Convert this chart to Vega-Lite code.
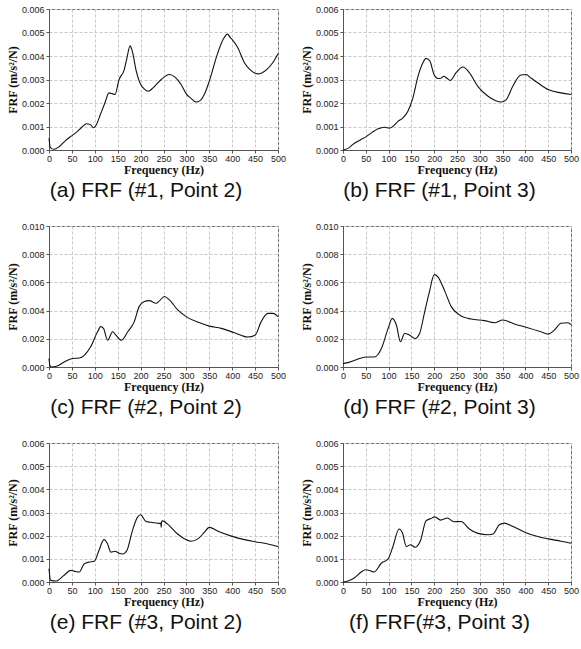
{
  "$schema": "https://vega.github.io/schema/vega-lite/v6.json",
  "padding": {"left": 5, "top": 4, "right": 4, "bottom": 0},
  "background": "white",
  "config": {
    "view": {"stroke": "#555", "strokeWidth": 1},
    "axis": {"labelFont": "Liberation Sans", "labelFontSize": 9, "labelColor": "#222", "labelFlush": false, "labelOverlap": false, "titleFont": "Liberation Serif", "titleFontSize": 12, "titleFontWeight": "bold", "titleColor": "#111", "grid": true, "gridColor": "#c8c8c8", "gridDash": [3, 2], "domainColor": "#555", "tickColor": "#555", "tickSize": 3, "labelPadding": 2, "titlePadding": 2},
    "axisX": {"titlePadding": 1, "labelPadding": 1},
    "title": {"font": "Liberation Sans", "fontSize": 21, "fontWeight": "normal", "color": "#111", "orient": "bottom", "anchor": "middle", "frame": "bounds", "offset": 5},
    "line": {"color": "#111", "strokeWidth": 1.1, "interpolate": "monotone"}
  },
  "datasets": {
    "a": [
      {"f": 0, "v": 0.0005}, {"f": 3, "v": 0.0001}, {"f": 11, "v": 0.00003}, {"f": 22, "v": 0.00014}, {"f": 35, "v": 0.00038}, {"f": 47, "v": 0.00057}, {"f": 62, "v": 0.00079}, {"f": 72, "v": 0.00098}, {"f": 82, "v": 0.00112}, {"f": 91, "v": 0.00107}, {"f": 97, "v": 0.00095}, {"f": 100, "v": 0.00098}, {"f": 104, "v": 0.0011}, {"f": 112, "v": 0.0015}, {"f": 122, "v": 0.002}, {"f": 131, "v": 0.00243}, {"f": 138, "v": 0.0024}, {"f": 144, "v": 0.00236}, {"f": 153, "v": 0.003}, {"f": 164, "v": 0.0034}, {"f": 170, "v": 0.0039}, {"f": 177, "v": 0.00443}, {"f": 182, "v": 0.0042}, {"f": 190, "v": 0.0034}, {"f": 200, "v": 0.0028}, {"f": 208, "v": 0.0026}, {"f": 217, "v": 0.0025}, {"f": 230, "v": 0.0027}, {"f": 245, "v": 0.003}, {"f": 263, "v": 0.00321}, {"f": 275, "v": 0.0031}, {"f": 288, "v": 0.0028}, {"f": 300, "v": 0.00238}, {"f": 310, "v": 0.0022}, {"f": 321, "v": 0.00204}, {"f": 330, "v": 0.0021}, {"f": 340, "v": 0.0024}, {"f": 350, "v": 0.00293}, {"f": 368, "v": 0.0041}, {"f": 380, "v": 0.0047}, {"f": 390, "v": 0.00493}, {"f": 395, "v": 0.0048}, {"f": 400, "v": 0.0047}, {"f": 412, "v": 0.00436}, {"f": 427, "v": 0.0037}, {"f": 440, "v": 0.0034}, {"f": 456, "v": 0.00324}, {"f": 474, "v": 0.0034}, {"f": 488, "v": 0.0037}, {"f": 500, "v": 0.0041}
    ],
    "b": [
      {"f": 0, "v": 0.0}, {"f": 12, "v": 0.00008}, {"f": 25, "v": 0.00029}, {"f": 38, "v": 0.00043}, {"f": 51, "v": 0.00057}, {"f": 64, "v": 0.00075}, {"f": 77, "v": 0.0009}, {"f": 91, "v": 0.00097}, {"f": 102, "v": 0.00093}, {"f": 109, "v": 0.001}, {"f": 120, "v": 0.00121}, {"f": 131, "v": 0.00136}, {"f": 142, "v": 0.00164}, {"f": 153, "v": 0.0022}, {"f": 164, "v": 0.0031}, {"f": 175, "v": 0.0037}, {"f": 182, "v": 0.0039}, {"f": 190, "v": 0.0038}, {"f": 200, "v": 0.0032}, {"f": 208, "v": 0.00304}, {"f": 214, "v": 0.00305}, {"f": 221, "v": 0.00314}, {"f": 228, "v": 0.00305}, {"f": 235, "v": 0.00296}, {"f": 248, "v": 0.00329}, {"f": 263, "v": 0.00353}, {"f": 277, "v": 0.00329}, {"f": 296, "v": 0.0027}, {"f": 318, "v": 0.00229}, {"f": 335, "v": 0.0021}, {"f": 347, "v": 0.00204}, {"f": 358, "v": 0.00214}, {"f": 372, "v": 0.0027}, {"f": 390, "v": 0.00319}, {"f": 401, "v": 0.00321}, {"f": 413, "v": 0.00305}, {"f": 427, "v": 0.00286}, {"f": 450, "v": 0.00257}, {"f": 478, "v": 0.00243}, {"f": 500, "v": 0.00236}
    ],
    "c": [
      {"f": 0, "v": 0.0006}, {"f": 2, "v": 0.0001}, {"f": 5, "v": 0.0}, {"f": 18, "v": 0.00007}, {"f": 33, "v": 0.00036}, {"f": 51, "v": 0.0006}, {"f": 66, "v": 0.00064}, {"f": 77, "v": 0.00083}, {"f": 91, "v": 0.00143}, {"f": 106, "v": 0.0025}, {"f": 113, "v": 0.00286}, {"f": 119, "v": 0.00274}, {"f": 128, "v": 0.0019}, {"f": 139, "v": 0.0025}, {"f": 146, "v": 0.00226}, {"f": 158, "v": 0.0019}, {"f": 172, "v": 0.0025}, {"f": 186, "v": 0.0032}, {"f": 197, "v": 0.0043}, {"f": 208, "v": 0.00464}, {"f": 219, "v": 0.00471}, {"f": 234, "v": 0.00452}, {"f": 241, "v": 0.00469}, {"f": 252, "v": 0.005}, {"f": 263, "v": 0.00476}, {"f": 281, "v": 0.00405}, {"f": 303, "v": 0.0035}, {"f": 332, "v": 0.0031}, {"f": 350, "v": 0.0029}, {"f": 376, "v": 0.00274}, {"f": 405, "v": 0.00243}, {"f": 434, "v": 0.00213}, {"f": 450, "v": 0.00226}, {"f": 463, "v": 0.0032}, {"f": 478, "v": 0.0038}, {"f": 489, "v": 0.0038}, {"f": 500, "v": 0.00357}
    ],
    "d": [
      {"f": 0, "v": 0.00024}, {"f": 13, "v": 0.00033}, {"f": 26, "v": 0.00048}, {"f": 38, "v": 0.00062}, {"f": 51, "v": 0.00071}, {"f": 69, "v": 0.00071}, {"f": 84, "v": 0.0013}, {"f": 99, "v": 0.00274}, {"f": 108, "v": 0.00345}, {"f": 117, "v": 0.00298}, {"f": 126, "v": 0.00179}, {"f": 135, "v": 0.00238}, {"f": 146, "v": 0.00226}, {"f": 158, "v": 0.00202}, {"f": 168, "v": 0.00238}, {"f": 179, "v": 0.0039}, {"f": 190, "v": 0.0054}, {"f": 200, "v": 0.00655}, {"f": 208, "v": 0.0064}, {"f": 223, "v": 0.0054}, {"f": 237, "v": 0.0043}, {"f": 255, "v": 0.0037}, {"f": 281, "v": 0.0034}, {"f": 310, "v": 0.00329}, {"f": 332, "v": 0.00314}, {"f": 350, "v": 0.00333}, {"f": 376, "v": 0.00305}, {"f": 405, "v": 0.00279}, {"f": 434, "v": 0.0025}, {"f": 450, "v": 0.00233}, {"f": 463, "v": 0.0026}, {"f": 478, "v": 0.0031}, {"f": 493, "v": 0.00314}, {"f": 500, "v": 0.003}
    ],
    "e": [
      {"f": 0, "v": 0.00057}, {"f": 3.6, "v": 0.00007}, {"f": 15, "v": 0.00004}, {"f": 33, "v": 0.00029}, {"f": 47, "v": 0.0005}, {"f": 55, "v": 0.00047}, {"f": 66, "v": 0.00043}, {"f": 77, "v": 0.00079}, {"f": 88, "v": 0.00086}, {"f": 99, "v": 0.0009}, {"f": 109, "v": 0.00136}, {"f": 120, "v": 0.00183}, {"f": 128, "v": 0.00164}, {"f": 135, "v": 0.00129}, {"f": 144, "v": 0.00133}, {"f": 153, "v": 0.00124}, {"f": 161, "v": 0.00121}, {"f": 170, "v": 0.00136}, {"f": 182, "v": 0.00221}, {"f": 193, "v": 0.00279}, {"f": 200, "v": 0.0029}, {"f": 212, "v": 0.00261}, {"f": 226, "v": 0.00257}, {"f": 241, "v": 0.00253}, {"f": 244, "v": 0.00255}, {"f": 245, "v": 0.00236}, {"f": 246, "v": 0.00262}, {"f": 248, "v": 0.00264}, {"f": 259, "v": 0.0025}, {"f": 281, "v": 0.00207}, {"f": 296, "v": 0.00186}, {"f": 310, "v": 0.00176}, {"f": 325, "v": 0.00186}, {"f": 339, "v": 0.00214}, {"f": 350, "v": 0.00236}, {"f": 369, "v": 0.00219}, {"f": 400, "v": 0.00197}, {"f": 427, "v": 0.00183}, {"f": 450, "v": 0.00174}, {"f": 478, "v": 0.00164}, {"f": 500, "v": 0.00153}
    ],
    "f": [
      {"f": 0, "v": 0.0}, {"f": 11, "v": 0.00004}, {"f": 22, "v": 0.00014}, {"f": 40, "v": 0.00043}, {"f": 49, "v": 0.00053}, {"f": 58, "v": 0.0005}, {"f": 68, "v": 0.00043}, {"f": 84, "v": 0.00081}, {"f": 99, "v": 0.001}, {"f": 109, "v": 0.0015}, {"f": 123, "v": 0.00229}, {"f": 130, "v": 0.00214}, {"f": 139, "v": 0.00153}, {"f": 148, "v": 0.00161}, {"f": 158, "v": 0.0015}, {"f": 170, "v": 0.00179}, {"f": 182, "v": 0.00264}, {"f": 193, "v": 0.00274}, {"f": 201, "v": 0.00281}, {"f": 214, "v": 0.00267}, {"f": 229, "v": 0.00276}, {"f": 243, "v": 0.0026}, {"f": 259, "v": 0.00261}, {"f": 277, "v": 0.00229}, {"f": 296, "v": 0.0021}, {"f": 318, "v": 0.00204}, {"f": 329, "v": 0.00207}, {"f": 343, "v": 0.00247}, {"f": 354, "v": 0.00254}, {"f": 369, "v": 0.00243}, {"f": 400, "v": 0.00214}, {"f": 427, "v": 0.00196}, {"f": 450, "v": 0.00186}, {"f": 478, "v": 0.00176}, {"f": 500, "v": 0.00167}
    ]
  },
  "spacing": 19,
  "vconcat": [
    {"spacing": 12, "hconcat": [
      {"width": 229, "height": 141, "data": {"name": "a"}, "title": {"text": "(a) FRF (#1, Point 2)"}, "mark": "line",
       "encoding": {"x": {"field": "f", "type": "quantitative", "scale": {"domain": [0, 500], "nice": false}, "axis": {"title": "Frequency (Hz)", "values": [0, 50, 100, 150, 200, 250, 300, 350, 400, 450, 500]}},
                    "y": {"field": "v", "type": "quantitative", "scale": {"domain": [0, 0.006], "nice": false}, "axis": {"title": "FRF (m/s²/N)", "values": [0, 0.001, 0.002, 0.003, 0.004, 0.005, 0.006], "format": ".3f"}}}},
      {"width": 228, "height": 141, "data": {"name": "b"}, "title": {"text": "(b) FRF (#1, Point 3)"}, "mark": "line",
       "encoding": {"x": {"field": "f", "type": "quantitative", "scale": {"domain": [0, 500], "nice": false}, "axis": {"title": "Frequency (Hz)", "values": [0, 50, 100, 150, 200, 250, 300, 350, 400, 450, 500]}},
                    "y": {"field": "v", "type": "quantitative", "scale": {"domain": [0, 0.006], "nice": false}, "axis": {"title": "FRF (m/s²/N)", "values": [0, 0.001, 0.002, 0.003, 0.004, 0.005, 0.006], "format": ".3f"}}}}
    ]},
    {"spacing": 12, "hconcat": [
      {"width": 229, "height": 141, "data": {"name": "c"}, "title": {"text": "(c) FRF (#2, Point 2)"}, "mark": "line",
       "encoding": {"x": {"field": "f", "type": "quantitative", "scale": {"domain": [0, 500], "nice": false}, "axis": {"title": "Frequency (Hz)", "values": [0, 50, 100, 150, 200, 250, 300, 350, 400, 450, 500]}},
                    "y": {"field": "v", "type": "quantitative", "scale": {"domain": [0, 0.01], "nice": false}, "axis": {"title": "FRF (m/s²/N)", "values": [0, 0.002, 0.004, 0.006, 0.008, 0.01], "format": ".3f"}}}},
      {"width": 228, "height": 141, "data": {"name": "d"}, "title": {"text": "(d) FRF (#2, Point 3)"}, "mark": "line",
       "encoding": {"x": {"field": "f", "type": "quantitative", "scale": {"domain": [0, 500], "nice": false}, "axis": {"title": "Frequency (Hz)", "values": [0, 50, 100, 150, 200, 250, 300, 350, 400, 450, 500]}},
                    "y": {"field": "v", "type": "quantitative", "scale": {"domain": [0, 0.01], "nice": false}, "axis": {"title": "FRF (m/s²/N)", "values": [0, 0.002, 0.004, 0.006, 0.008, 0.01], "format": ".3f"}}}}
    ]},
    {"spacing": 12, "hconcat": [
      {"width": 229, "height": 139, "data": {"name": "e"}, "title": {"text": "(e) FRF (#3, Point 2)"}, "mark": "line",
       "encoding": {"x": {"field": "f", "type": "quantitative", "scale": {"domain": [0, 500], "nice": false}, "axis": {"title": "Frequency (Hz)", "values": [0, 50, 100, 150, 200, 250, 300, 350, 400, 450, 500]}},
                    "y": {"field": "v", "type": "quantitative", "scale": {"domain": [0, 0.006], "nice": false}, "axis": {"title": "FRF (m/s²/N)", "values": [0, 0.001, 0.002, 0.003, 0.004, 0.005, 0.006], "format": ".3f"}}}},
      {"width": 228, "height": 139, "data": {"name": "f"}, "title": {"text": "(f) FRF(#3, Point 3)"}, "mark": "line",
       "encoding": {"x": {"field": "f", "type": "quantitative", "scale": {"domain": [0, 500], "nice": false}, "axis": {"title": "Frequency (Hz)", "values": [0, 50, 100, 150, 200, 250, 300, 350, 400, 450, 500]}},
                    "y": {"field": "v", "type": "quantitative", "scale": {"domain": [0, 0.006], "nice": false}, "axis": {"title": "FRF (m/s²/N)", "values": [0, 0.001, 0.002, 0.003, 0.004, 0.005, 0.006], "format": ".3f"}}}}
    ]}
  ]
}
